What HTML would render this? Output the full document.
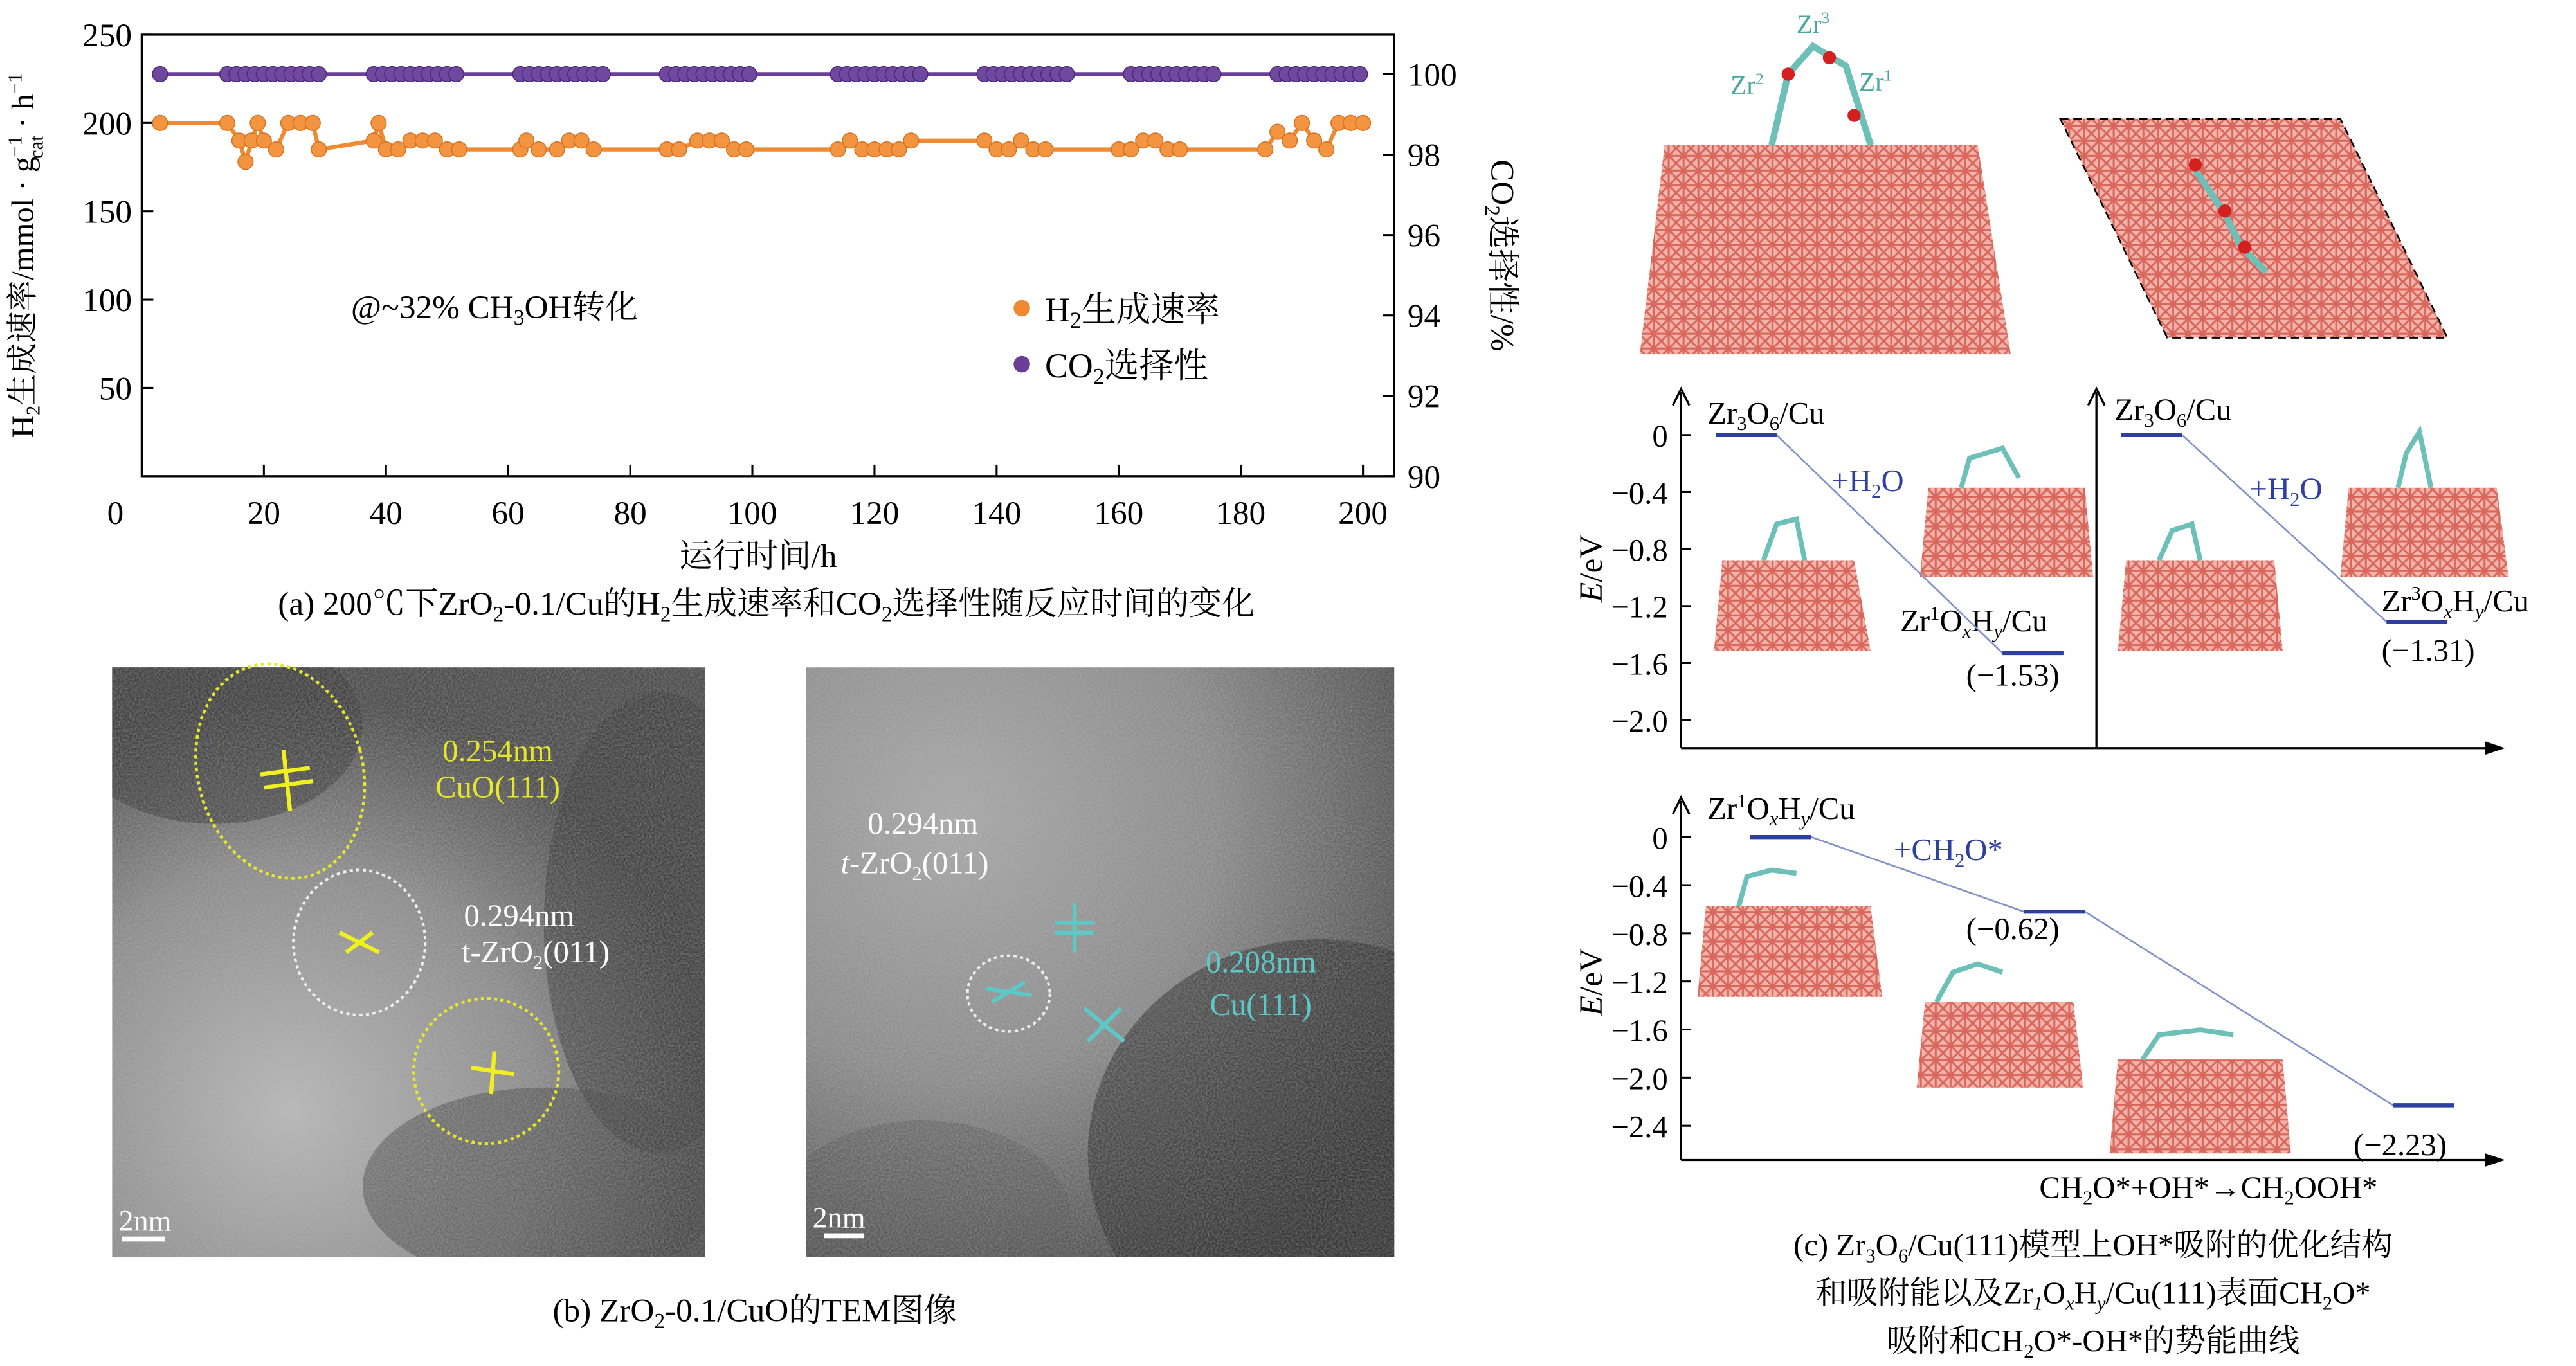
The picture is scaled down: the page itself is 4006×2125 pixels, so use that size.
<!DOCTYPE html>
<html><head><meta charset="utf-8"><style>
html,body{margin:0;padding:0;background:#fff;}
svg{display:block;font-family:"Liberation Serif","Noto Serif CJK SC",serif;}
</style></head><body>
<svg id="fig" width="4006" height="2125" viewBox="0 0 1563 829" xmlns="http://www.w3.org/2000/svg">
<defs>
<pattern id="cu" width="9" height="9" patternUnits="userSpaceOnUse">
<rect width="9" height="9" fill="#f2b3aa"/>
<path d="M0 0L9 9M9 0L0 9M0 4.5H9M4.5 0V9" stroke="#d9675c" stroke-width="1.2"/>
</pattern>
<filter id="noise" x="0" y="0" width="100%" height="100%">
<feTurbulence type="fractalNoise" baseFrequency="0.9" numOctaves="2" seed="3"/>
<feColorMatrix type="matrix" values="0 0 0 0 0.5  0 0 0 0 0.5  0 0 0 0 0.5  0 0 0 1.2 -0.3"/>
</filter>
<clipPath id="clipL"><rect x="68" y="405" width="360" height="358"/></clipPath>
<clipPath id="clipR"><rect x="489" y="405" width="357" height="358"/></clipPath>
<radialGradient id="gL" cx="0.3" cy="0.75" r="0.7"><stop offset="0" stop-color="#b8b8b8"/><stop offset="0.6" stop-color="#8a8a8a"/><stop offset="1" stop-color="#4a4a4a"/></radialGradient>
<radialGradient id="gR" cx="0.25" cy="0.25" r="0.9"><stop offset="0" stop-color="#a8a8a8"/><stop offset="0.5" stop-color="#8a8a8a"/><stop offset="1" stop-color="#3e3e3e"/></radialGradient>
</defs>

<!-- Panel a -->
<g id="panelA">
<rect x="86" y="21" width="760" height="268" fill="none" stroke="#000" stroke-width="1.3"/>
<g id="axA" font-size="20"></g>
<text x="20" y="155" font-size="19" transform="rotate(-90 20 155)" text-anchor="middle">H<tspan font-size="12" dy="4">2</tspan><tspan dy="-4">生成速率/mmol · g</tspan><tspan font-size="12" dy="-7">−1</tspan><tspan font-size="12" dx="-14" dy="13">cat</tspan><tspan dy="-6"> · h</tspan><tspan font-size="12" dy="-7">−1</tspan></text>
<text x="905" y="155" font-size="20" transform="rotate(90 905 155)" text-anchor="middle">CO<tspan font-size="13" dy="4">2</tspan><tspan dy="-4">选择性/%</tspan></text>
<text x="460" y="344" font-size="20" text-anchor="middle">运行时间/h</text>
<text x="465" y="373" font-size="20" text-anchor="middle">(a) 200℃下ZrO<tspan font-size="13" dy="4">2</tspan><tspan dy="-4">-0.1/Cu的H</tspan><tspan font-size="13" dy="4">2</tspan><tspan dy="-4">生成速率和CO</tspan><tspan font-size="13" dy="4">2</tspan><tspan dy="-4">选择性随反应时间的变化</tspan></text>
<text x="213" y="193" font-size="20">@~32% CH<tspan font-size="13" dy="4">3</tspan><tspan dy="-4">OH转化</tspan></text>
<g>
<circle cx="620" cy="187" r="5" fill="#f08a30"/>
<text x="634" y="195" font-size="21">H<tspan font-size="14" dy="4">2</tspan><tspan dy="-4">生成速率</tspan></text>
<circle cx="620" cy="221" r="5" fill="#6a3d96"/>
<text x="634" y="229" font-size="21">CO<tspan font-size="14" dy="4">2</tspan><tspan dy="-4">选择性</tspan></text>
</g>
<g id="marksA"></g>
</g>

<!-- Panel b -->
<g>
<g>
<g clip-path="url(#clipL)">
<rect x="68" y="405" width="360" height="358" fill="url(#gL)"/>
<ellipse cx="130" cy="440" rx="90" ry="60" fill="#3a3a3a" opacity="0.6"/>
<ellipse cx="400" cy="560" rx="70" ry="140" fill="#3a3a3a" opacity="0.55"/>
<ellipse cx="330" cy="720" rx="110" ry="60" fill="#444" opacity="0.5"/>
<rect x="68" y="405" width="360" height="358" filter="url(#noise)" opacity="0.55"/>
</g>
<ellipse cx="170" cy="468" rx="50" ry="66" transform="rotate(-15 170 468)" fill="none" stroke="#e6e62a" stroke-width="1.8" stroke-dasharray="2 2"/>
<ellipse cx="218" cy="572" rx="40" ry="44" fill="none" stroke="#eee" stroke-width="1.6" stroke-dasharray="2 2"/>
<ellipse cx="295" cy="650" rx="44" ry="44" fill="none" stroke="#e6e62a" stroke-width="1.8" stroke-dasharray="2 2"/>
<path d="M158 470L188 466M160 478L190 474M172 455L176 492M286 648L312 652M300 638L298 664M206 566L230 578M210 578L226 566" stroke="#f0f020" stroke-width="2.5"/>
<text x="302" y="462" font-size="19" fill="#e6e62a" text-anchor="middle">0.254nm</text>
<text x="302" y="484" font-size="19" fill="#e6e62a" text-anchor="middle">CuO(111)</text>
<text x="315" y="562" font-size="19" fill="#fff" text-anchor="middle">0.294nm</text>
<text x="325" y="584" font-size="19" fill="#fff" text-anchor="middle">t-ZrO<tspan font-size="12" dy="4">2</tspan><tspan dy="-4">(011)</tspan></text>
<text x="72" y="747" font-size="18" fill="#fff">2nm</text>
<line x1="74" y1="752" x2="100" y2="752" stroke="#fff" stroke-width="3"/>
</g>
<g>
<g clip-path="url(#clipR)">
<rect x="489" y="405" width="357" height="358" fill="url(#gR)"/>
<ellipse cx="800" cy="700" rx="140" ry="130" fill="#2e2e2e" opacity="0.6"/>
<ellipse cx="560" cy="740" rx="90" ry="60" fill="#555" opacity="0.4"/>
<rect x="489" y="405" width="357" height="358" filter="url(#noise)" opacity="0.55"/>
</g>
<ellipse cx="612" cy="603" rx="25" ry="23" fill="none" stroke="#eee" stroke-width="1.6" stroke-dasharray="2 2"/>
<path d="M598 600L626 604M602 608L622 596M640 560L664 560M640 566L664 566M652 548L652 578M658 612L682 632M660 632L680 612" stroke="#5cc8c8" stroke-width="2.5"/>
<text x="560" y="506" font-size="19" fill="#fff" text-anchor="middle">0.294nm</text>
<text x="555" y="530" font-size="19" fill="#fff" text-anchor="middle" font-style="italic">t<tspan font-style="normal">-ZrO</tspan><tspan font-style="normal" font-size="12" dy="4">2</tspan><tspan font-style="normal" dy="-4">(011)</tspan></text>
<text x="765" y="590" font-size="19" fill="#5cc8c8" text-anchor="middle">0.208nm</text>
<text x="765" y="616" font-size="19" fill="#5cc8c8" text-anchor="middle">Cu(111)</text>
<text x="493" y="745" font-size="18" fill="#fff">2nm</text>
<line x1="500" y1="750" x2="524" y2="750" stroke="#fff" stroke-width="3"/>
</g>
<text x="458" y="802" font-size="20" text-anchor="middle">(b) ZrO<tspan font-size="13" dy="4">2</tspan><tspan dy="-4">-0.1/CuO的TEM图像</tspan></text>
</g>

<!-- Panel c -->
<g>
<g>
<polygon points="1010,88 1200,88 1220,215 995,215" fill="url(#cu)"/>
<path d="M1075 88L1085 45L1100 28L1120 40L1135 88" stroke="#6cc0b8" stroke-width="4" fill="none"/>
<circle cx="1085" cy="45" r="4" fill="#d42020"/><circle cx="1110" cy="35" r="4" fill="#d42020"/><circle cx="1125" cy="70" r="4" fill="#d42020"/>
<text x="1050" y="57" font-size="16" fill="#4aa8a0">Zr<tspan font-size="10" dy="-6">2</tspan></text>
<text x="1090" y="20" font-size="16" fill="#4aa8a0">Zr<tspan font-size="10" dy="-6">3</tspan></text>
<text x="1128" y="55" font-size="16" fill="#4aa8a0">Zr<tspan font-size="10" dy="-6">1</tspan></text>
</g>
<g>
<polygon points="1250,72 1420,72 1485,205 1315,205" fill="url(#cu)" stroke="#000" stroke-dasharray="5 3"/>
<path d="M1330 100L1350 130L1360 150L1375 165" stroke="#6cc0b8" stroke-width="4" fill="none"/>
<circle cx="1332" cy="100" r="4" fill="#d42020"/><circle cx="1350" cy="128" r="4" fill="#d42020"/><circle cx="1362" cy="150" r="4" fill="#d42020"/>
</g>
<g id="energyTop">
<line x1="1020" y1="454" x2="1020" y2="238" stroke="#000" stroke-width="1.3"/>
<path d="M1015 246L1020 236L1025 246" fill="none" stroke="#000" stroke-width="1.3"/>
<line x1="1272" y1="454" x2="1272" y2="238" stroke="#000" stroke-width="1.3"/>
<path d="M1267 246L1272 236L1277 246" fill="none" stroke="#000" stroke-width="1.3"/>
<line x1="1020" y1="454" x2="1518" y2="454" stroke="#000" stroke-width="1.3"/>
<path d="M1508 450L1520 454L1508 458" fill="#000"/>
<text x="972" y="345" font-size="20" font-style="italic" transform="rotate(-90 972 345)" text-anchor="middle">E<tspan font-style="normal">/eV</tspan></text>
<g id="tickTop" font-size="19"></g>
<polygon points="1045,340 1125,340 1135,395 1040,395" fill="url(#cu)"/>
<polygon points="1170,296 1265,296 1270,350 1165,350" fill="url(#cu)"/>
<polygon points="1290,340 1380,340 1385,395 1285,395" fill="url(#cu)"/>
<polygon points="1425,296 1515,296 1522,350 1420,350" fill="url(#cu)"/>
<path d="M1070 340L1078 318L1090 315L1095 340M1190 296L1195 278L1215 272L1225 290M1310 340L1318 322L1330 318L1335 340M1455 296L1460 275L1468 262L1475 296" stroke="#6cc0b8" stroke-width="3" fill="none"/>
<text x="1036" y="257" font-size="19">Zr<tspan font-size="12" dy="4">3</tspan><tspan dy="-4">O</tspan><tspan font-size="12" dy="4">6</tspan><tspan dy="-4">/Cu</tspan></text>
<text x="1111" y="298" font-size="19" fill="#2e3fa0">+H<tspan font-size="12" dy="4">2</tspan><tspan dy="-4">O</tspan></text>
<text x="1153" y="383" font-size="19">Zr<tspan font-size="12" dy="-7">1</tspan><tspan dy="7">O</tspan><tspan font-size="12" dy="4" font-style="italic">x</tspan><tspan dy="-4">H</tspan><tspan font-size="12" dy="4" font-style="italic">y</tspan><tspan dy="-4">/Cu</tspan></text>
<text x="1193" y="416" font-size="19">(−1.53)</text>
<text x="1283" y="255" font-size="19">Zr<tspan font-size="12" dy="4">3</tspan><tspan dy="-4">O</tspan><tspan font-size="12" dy="4">6</tspan><tspan dy="-4">/Cu</tspan></text>
<text x="1365" y="303" font-size="19" fill="#2e3fa0">+H<tspan font-size="12" dy="4">2</tspan><tspan dy="-4">O</tspan></text>
<text x="1445" y="371" font-size="19">Zr<tspan font-size="12" dy="-7">3</tspan><tspan dy="7">O</tspan><tspan font-size="12" dy="4" font-style="italic">x</tspan><tspan dy="-4">H</tspan><tspan font-size="12" dy="4" font-style="italic">y</tspan><tspan dy="-4">/Cu</tspan></text>
<text x="1445" y="401" font-size="19">(−1.31)</text>
<g id="levelsTop"></g>
</g>
<g id="energyBot">
<line x1="1020" y1="704" x2="1020" y2="486" stroke="#000" stroke-width="1.3"/>
<path d="M1015 494L1020 484L1025 494" fill="none" stroke="#000" stroke-width="1.3"/>
<line x1="1020" y1="704" x2="1518" y2="704" stroke="#000" stroke-width="1.3"/>
<path d="M1508 700L1520 704L1508 708" fill="#000"/>
<text x="972" y="596" font-size="20" font-style="italic" transform="rotate(-90 972 596)" text-anchor="middle">E<tspan font-style="normal">/eV</tspan></text>
<g id="tickBot" font-size="19"></g>
<polygon points="1035,550 1135,550 1142,605 1030,605" fill="url(#cu)"/>
<polygon points="1168,608 1258,608 1264,660 1163,660" fill="url(#cu)"/>
<polygon points="1285,643 1385,643 1390,700 1280,700" fill="url(#cu)"/>
<path d="M1055 550L1060 532L1075 528L1090 530M1175 608L1185 590L1200 585L1215 590M1300 643L1310 628L1335 625L1355 628" stroke="#6cc0b8" stroke-width="3" fill="none"/>
<text x="1036" y="497" font-size="19">Zr<tspan font-size="12" dy="-7">1</tspan><tspan dy="7">O</tspan><tspan font-size="12" dy="4" font-style="italic">x</tspan><tspan dy="-4">H</tspan><tspan font-size="12" dy="4" font-style="italic">y</tspan><tspan dy="-4">/Cu</tspan></text>
<text x="1149" y="522" font-size="19" fill="#2e3fa0">+CH<tspan font-size="12" dy="4">2</tspan><tspan dy="-4">O*</tspan></text>
<text x="1193" y="570" font-size="19">(−0.62)</text>
<text x="1428" y="701" font-size="19">(−2.23)</text>
<text x="1340" y="727" font-size="19" text-anchor="middle">CH<tspan font-size="12" dy="4">2</tspan><tspan dy="-4">O*+OH*→CH</tspan><tspan font-size="12" dy="4">2</tspan><tspan dy="-4">OOH*</tspan></text>
<g id="levelsBot"></g>
</g>
<g font-size="19" text-anchor="middle">
<text x="1270" y="762">(c) Zr<tspan font-size="12" dy="4">3</tspan><tspan dy="-4">O</tspan><tspan font-size="12" dy="4">6</tspan><tspan dy="-4">/Cu(111)模型上OH*吸附的优化结构</tspan></text>
<text x="1270" y="791">和吸附能以及Zr<tspan font-size="12" dy="4" font-style="italic">1</tspan><tspan dy="-4">O</tspan><tspan font-size="12" dy="4" font-style="italic">x</tspan><tspan dy="-4">H</tspan><tspan font-size="12" dy="4" font-style="italic">y</tspan><tspan dy="-4">/Cu(111)表面CH</tspan><tspan font-size="12" dy="4">2</tspan><tspan dy="-4">O*</tspan></text>
<text x="1270" y="820">吸附和CH<tspan font-size="12" dy="4">2</tspan><tspan dy="-4">O*-OH*的势能曲线</tspan></text>
</g>
</g>
</svg>
<script>
const NS="http://www.w3.org/2000/svg";
const h2Times=[3,14,16,17,18,19,20,22,24,26,28,29,38,38.8,40,42,44,46,48,50,52,62,63,65,68,70,72,74,86,88,91,93,95,97,99,114,116,118,120,122,124,126,138,140,142,144,146,148,160,162,164,166,168,170,184,186,188,190,192,194,196,198,200];
const h2Rates=[200,200,190,178,190,200,190,185,200,200,200,185,190,200,185,185,190,190,190,185,185,185,190,185,185,190,190,185,185,185,190,190,190,185,185,185,190,185,185,185,185,190,190,185,185,190,185,185,185,185,190,190,185,185,185,195,190,200,190,185,200,200,200];
const co2Times=[3,14,15.5,17,18.5,20,21.5,23,24.5,26,27.5,29,38,39.5,41,42.5,44,45.5,47,48.5,50,51.5,62,63.5,65,66.5,68,69.5,71,72.5,74,75.5,86,87.5,89,90.5,92,93.5,95,96.5,98,99.5,114,115.5,117,118.5,120,121.5,123,124.5,126,127.5,138,139.5,141,142.5,144,145.5,147,148.5,150,151.5,162,163.5,165,166.5,168,169.5,171,172.5,174,175.5,186,187.5,189,190.5,192,193.5,195,196.5,198,199.5];
const co2Sel=co2Times.map(()=>100);
const xTicks=[0,20,40,60,80,100,120,140,160,180,200];
const yLeftTicks=[50,100,150,200,250];
const yRightTicks=[90,92,94,96,98,100];
const xS=t=>86+t*3.705, yL=v=>289-v*1.072, yR=v=>289-(v-90)*24.4;
function el(tag,attrs,parent){const e=document.createElementNS(NS,tag);for(const k in attrs)e.setAttribute(k,attrs[k]);parent.appendChild(e);return e;}
const ax=document.getElementById('axA');
xTicks.forEach(t=>{
  if(t>0){const l=el('line',{x1:xS(t),x2:xS(t),y1:289,y2:282,stroke:'#000','stroke-width':1.2},ax);
  
  }
  const tx=el('text',{x:t===0?70:xS(t),y:318,'text-anchor':'middle'},ax);tx.textContent=t;
  
  
});
yLeftTicks.forEach(v=>{
  const l=el('line',{x1:86,x2:93,y1:yL(v),y2:yL(v),stroke:'#000','stroke-width':1.2},ax);
  
  
  const tx=el('text',{x:80,y:yL(v)+7,'text-anchor':'end'},ax);tx.textContent=v;
  
  
});
yRightTicks.forEach(v=>{
  const l=el('line',{x1:839,x2:846,y1:yR(v),y2:yR(v),stroke:'#000','stroke-width':1.2},ax);
  
  
  const tx=el('text',{x:854,y:yR(v)+7},ax);tx.textContent=v;
  
  
});
const mk=document.getElementById('marksA');
const pl=el('polyline',{points:co2Times.map((t,i)=>xS(t)+','+yR(co2Sel[i])).join(' '),fill:'none',stroke:'#6a3d96','stroke-width':2.5},mk);


const pl2=el('polyline',{points:h2Times.map((t,i)=>xS(t)+','+yL(h2Rates[i])).join(' '),fill:'none',stroke:'#f08a30','stroke-width':2.5},mk);


co2Times.forEach((t,i)=>{const c=el('circle',{cx:xS(t),cy:yR(co2Sel[i]),r:4.6,fill:'#7048a0',stroke:'#4a2a78','stroke-width':0.6},mk);
  
  });
h2Times.forEach((t,i)=>{const c=el('circle',{cx:xS(t),cy:yL(h2Rates[i]),r:4.6,fill:'#f39540',stroke:'#d87020','stroke-width':0.6},mk);
  
  });
const topTicks=[0,-0.4,-0.8,-1.2,-1.6,-2.0];
const botTicks=[0,-0.4,-0.8,-1.2,-1.6,-2.0,-2.4];
const topLeftEnergies=[0,-1.53];
const topRightEnergies=[0,-1.31];
const botEnergies=[0,-0.62,-2.23];
const yT=e=>264-e*86.5, yB=e=>508-e*73;
function ticks(id,arr,ys,x0){const g=document.getElementById(id);arr.forEach(v=>{
  const l=el('line',{x1:x0,x2:x0+6,y1:ys(v),y2:ys(v),stroke:'#000','stroke-width':1.2},g);
  
  
  const t=el('text',{x:1012,y:ys(v)+7,'text-anchor':'end'},g);t.textContent=v===0?'0':'−'+Math.abs(v).toFixed(1);
  
  });}
ticks('tickTop',topTicks,yT,1020);ticks('tickBot',botTicks,yB,1020);
function levels(id,es,xs,ys){const g=document.getElementById(id);
  for(let i=0;i<es.length-1;i++){const c=el('line',{x1:xs[i]+37,y1:ys(es[i]),x2:xs[i+1],y2:ys(es[i+1]),stroke:'#8090c8','stroke-width':1},g);
  
  }
  es.forEach((e,i)=>{const l=el('line',{x1:xs[i],x2:xs[i]+37,y1:ys(e),y2:ys(e),stroke:'#2e3fa0','stroke-width':2.5},g);
  
  });}
levels('levelsTop',topLeftEnergies,[1041,1215],yT);
levels('levelsTop',topRightEnergies,[1287,1448],yT);
levels('levelsBot',botEnergies,[1062,1228,1452],yB);
</script>
</body></html>
